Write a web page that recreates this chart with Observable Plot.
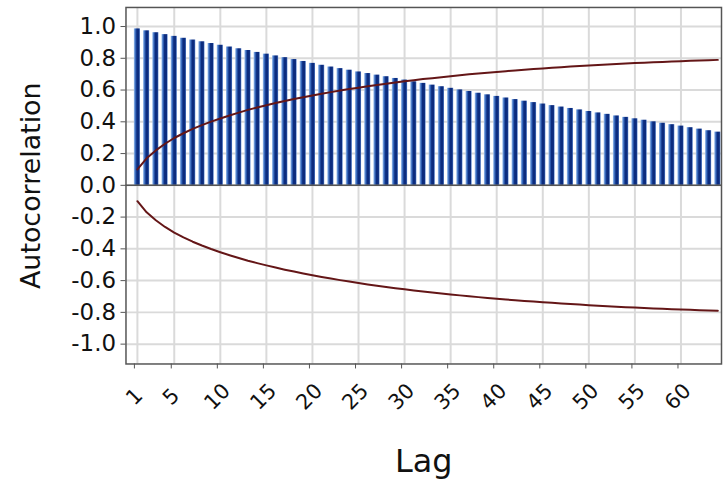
<!DOCTYPE html>
<html>
<head>
<meta charset="utf-8">
<script src="https://cdn.jsdelivr.net/npm/d3@7"></script>
<script src="https://cdn.jsdelivr.net/npm/@observablehq/plot@0.6"></script>
<style>
  html, body { margin: 0; padding: 0; background: #fff; overflow: hidden; }
  svg { display: block; }
</style>
</head>
<body>
<div id="chart"></div>
<script>
// Lags 1..64
const lags = d3.range(1, 65);

// Sample autocorrelation per lag
const acf = [
  0.985, 0.973, 0.961, 0.949, 0.938, 0.926, 0.915, 0.904, 0.893, 0.882,
  0.871, 0.860, 0.849, 0.837, 0.826, 0.815, 0.804, 0.792, 0.780, 0.768,
  0.756, 0.745, 0.735, 0.725, 0.714, 0.704, 0.694, 0.684, 0.673, 0.663,
  0.652, 0.642, 0.631, 0.621, 0.611, 0.601, 0.591, 0.580, 0.570, 0.560,
  0.550, 0.540, 0.530, 0.521, 0.512, 0.502, 0.493, 0.484, 0.475, 0.465,
  0.456, 0.447, 0.437, 0.428, 0.419, 0.410, 0.400, 0.391, 0.382, 0.373,
  0.363, 0.354, 0.344, 0.335
];

// Upper significance limit per lag
const upperLimit = [
  0.100, 0.170, 0.220, 0.262, 0.298, 0.328, 0.355, 0.379, 0.401, 0.421,
  0.440, 0.458, 0.475, 0.490, 0.504, 0.518, 0.531, 0.543, 0.555, 0.566,
  0.577, 0.587, 0.597, 0.606, 0.615, 0.624, 0.632, 0.640, 0.648, 0.655,
  0.662, 0.669, 0.675, 0.681, 0.687, 0.693, 0.699, 0.704, 0.709, 0.714,
  0.719, 0.723, 0.728, 0.732, 0.736, 0.740, 0.744, 0.748, 0.751, 0.755,
  0.758, 0.761, 0.764, 0.767, 0.770, 0.772, 0.775, 0.777, 0.780, 0.782,
  0.784, 0.786, 0.788, 0.790
];

// Lower significance limit per lag
const lowerLimit = [
  -0.100, -0.170, -0.220, -0.262, -0.298, -0.328, -0.355, -0.379, -0.401, -0.421,
  -0.440, -0.458, -0.475, -0.490, -0.504, -0.518, -0.531, -0.543, -0.555, -0.566,
  -0.577, -0.587, -0.597, -0.606, -0.615, -0.624, -0.632, -0.640, -0.648, -0.655,
  -0.662, -0.669, -0.675, -0.681, -0.687, -0.693, -0.699, -0.704, -0.709, -0.714,
  -0.719, -0.723, -0.728, -0.732, -0.736, -0.740, -0.744, -0.748, -0.751, -0.755,
  -0.758, -0.761, -0.764, -0.767, -0.770, -0.772, -0.775, -0.777, -0.780, -0.782,
  -0.784, -0.786, -0.788, -0.790
];

const xTicks = [1, 5, 10, 15, 20, 25, 30, 35, 40, 45, 50, 55, 60];
const yTicks = [-1.0, -0.8, -0.6, -0.4, -0.2, 0.0, 0.2, 0.4, 0.6, 0.8, 1.0];

const data = lags.map((lag, i) => ({lag, acf: acf[i], upper: upperLimit[i], lower: lowerLimit[i]}));

const font = "'DejaVu Sans', 'Open Sans', sans-serif";
const half = 0.33;
const ink = "#111";

const svg = Plot.plot({
  width: 726,
  height: 482,
  marginLeft: 126,
  marginRight: 2,
  marginTop: 7,
  marginBottom: 117,
  style: {fontFamily: font, background: "#fff", color: ink, overflow: "visible"},
  x: {type: "linear", domain: [-0.24, 64.4]},
  y: {domain: [-1.125, 1.12]},
  marks: [
    Plot.gridY(yTicks, {stroke: "#dadada", strokeOpacity: 1, strokeWidth: 2}),
    Plot.gridX(xTicks, {stroke: "#dadada", strokeOpacity: 1, strokeWidth: 2}),
    Plot.rect(data, {
      x1: d => d.lag - half,
      x2: d => d.lag + half,
      y1: 0,
      y2: "acf",
      fill: "url(#barGrad)"
    }),
    Plot.ruleY([0], {stroke: "#555", strokeWidth: 1.5}),
    Plot.line(data, {x: "lag", y: "upper", stroke: "#641617", strokeWidth: 2}),
    Plot.line(data, {x: "lag", y: "lower", stroke: "#641617", strokeWidth: 2}),
    Plot.frame({stroke: "#555", strokeWidth: 1.5}),
    Plot.axisY(yTicks, {
      tickFormat: d => d.toFixed(1),
      tickSize: 5,
      tickPadding: 5,
      fontSize: 23,
      stroke: "#555",
      fill: ink,
      label: null
    }),
    Plot.axisX(xTicks, {
      tickSize: 5,
      tickPadding: 28,
      tickRotate: -45,
      textAnchor: "middle",
      lineAnchor: "middle",
      dx: -3,
      fontSize: 21,
      stroke: "#555",
      fill: ink,
      label: null
    }),
    Plot.text(["Autocorrelation"], {
      frameAnchor: "left",
      textAnchor: "middle",
      lineAnchor: "middle",
      rotate: -90,
      dx: -95,
      fontSize: 27,
      fill: ink
    }),
    Plot.text(["Lag"], {
      frameAnchor: "bottom",
      textAnchor: "middle",
      lineAnchor: "middle",
      dy: 98,
      fontSize: 32,
      fill: ink
    })
  ]
});

// Gradient used to shade each bar
const defs = d3.select(svg).insert("defs", ":first-child");
const g = defs.append("linearGradient").attr("id", "barGrad").attr("x1", 0).attr("x2", 1).attr("y1", 0).attr("y2", 0);
[[0, "#9cc0ee"], [0.28, "#3466bb"], [0.5, "#0c2c7e"], [0.82, "#0c2c7e"], [1, "#5a86cf"]].forEach(([o, c]) =>
  g.append("stop").attr("offset", o).attr("stop-color", c)
);

document.getElementById("chart").appendChild(svg);
</script>
</body>
</html>
